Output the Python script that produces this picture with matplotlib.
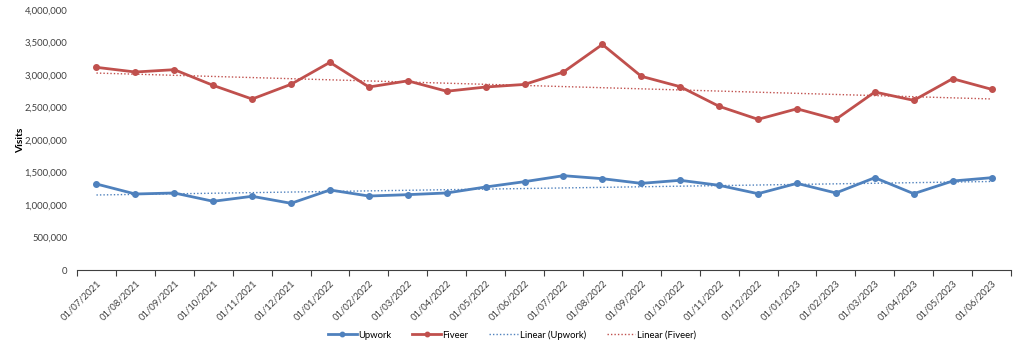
import matplotlib
matplotlib.use("Agg")
import matplotlib.pyplot as plt
import numpy as np
from matplotlib.ticker import FuncFormatter, FixedLocator

dates = ["01/07/2021", "01/08/2021", "01/09/2021", "01/10/2021", "01/11/2021", "01/12/2021",
         "01/01/2022", "01/02/2022", "01/03/2022", "01/04/2022", "01/05/2022", "01/06/2022",
         "01/07/2022", "01/08/2022", "01/09/2022", "01/10/2022", "01/11/2022", "01/12/2022",
         "01/01/2023", "01/02/2023", "01/03/2023", "01/04/2023", "01/05/2023", "01/06/2023"]
upwork = [1323000, 1169000, 1185000, 1057000, 1134000, 1026000, 1231000, 1138000, 1159000, 1185000,
          1277000, 1359000, 1451000, 1405000, 1333000, 1380000, 1303000, 1174000, 1333000, 1185000,
          1420000, 1174000, 1369000, 1420000]
fiveer = [3118000, 3046000, 3082000, 2840000, 2630000, 2857000, 3195000, 2815000, 2910000, 2750000,
          2815000, 2855000, 3046000, 3470000, 2980000, 2820000, 2518000, 2318000, 2480000, 2318000,
          2738000, 2610000, 2943000, 2780000]
y_ticks = [0, 500000, 1000000, 1500000, 2000000, 2500000, 3000000, 3500000, 4000000]

plt.rcParams['font.family'] = ['Lato', 'DejaVu Sans']
blue = "#4F81BD"
red = "#C0504D"

fig = plt.figure(figsize=(10.24, 3.51), dpi=100)
ax = fig.add_axes([77/1024, 81/351, 934/1024, 260/351])

x = np.arange(len(dates))
ax.plot(x, upwork, color=blue, lw=2.0, marker='o', ms=4, label="Upwork", zorder=3)
ax.plot(x, fiveer, color=red, lw=2.0, marker='o', ms=4, label="Fiveer", zorder=3)

xt = x + 1
for vals, c, name in [(upwork, blue, "Linear (Upwork)"), (fiveer, red, "Linear (Fiveer)")]:
    m, b = np.polyfit(xt, vals, 1)
    ax.plot(x, m * xt + b, color=c, lw=1.0, ls=(0, (1, 1.5)), label=name, zorder=2)

ax.set_xlim(-0.5, len(dates) - 0.5)
ax.set_ylim(0, 4000000)
ax.set_yticks(y_ticks)
ax.yaxis.set_major_formatter(FuncFormatter(lambda v, p: f"{int(v):,}"))
ax.set_xticks(x)
ax.set_xticklabels(dates, rotation=45, ha='right', rotation_mode='anchor')
ax.xaxis.set_minor_locator(FixedLocator(np.arange(-0.5, len(dates), 1.0)))
ax.tick_params(axis='x', which='major', length=0, pad=6, labelsize=6.8, colors='#404040')
ax.tick_params(axis='x', which='minor', length=4, color='#404040', width=0.8)
ax.tick_params(axis='y', length=0, pad=7, labelsize=6.8, colors='#404040')
for s in ['top', 'right', 'left']:
    ax.spines[s].set_visible(False)
ax.spines['bottom'].set_color('#404040')
ax.spines['bottom'].set_linewidth(0.8)

ax.set_ylabel("Visits", fontsize=7.5, fontweight='bold')
ax.yaxis.set_label_coords(-52/934, 0.5)

fig.legend(loc='center', bbox_to_anchor=(0.5, (351 - 335) / 351), ncol=4, frameon=False,
           fontsize=6.8, handlelength=3.0, columnspacing=2.2, handletextpad=0.2, markerscale=0.8)

fig.savefig("out.png", dpi=100)
